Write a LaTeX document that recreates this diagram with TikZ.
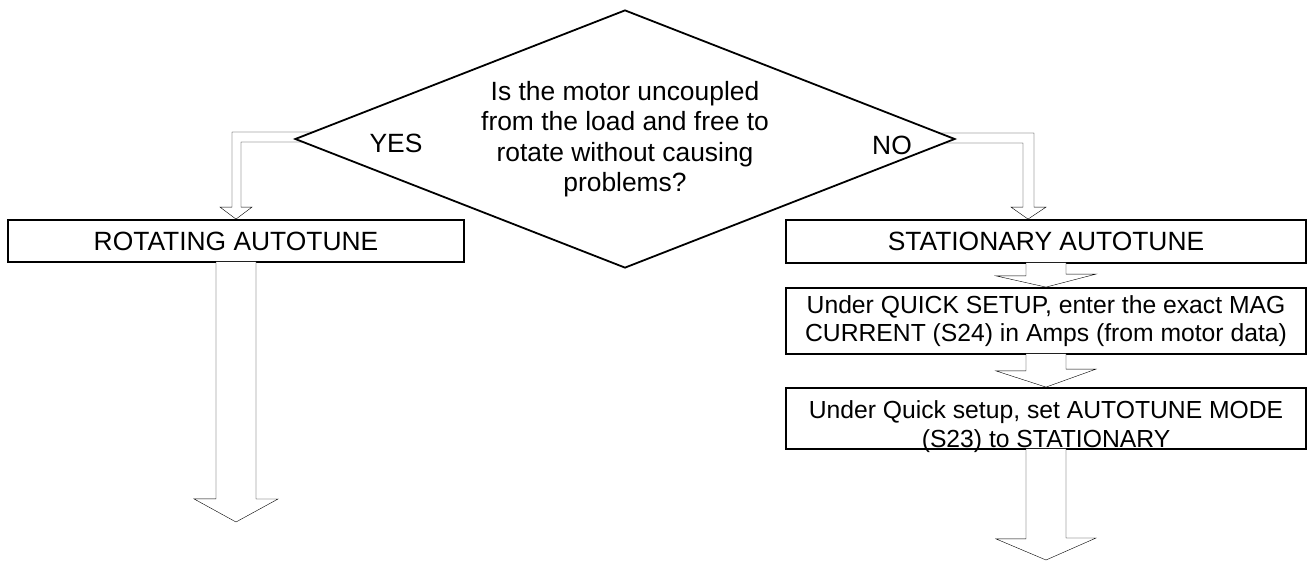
\documentclass[tikz,border=0pt]{standalone}
\usepackage{fontspec}
\setmainfont{Liberation Sans}
\usetikzlibrary{shapes.geometric}
\pgfdeclarelayer{background}
\pgfsetlayers{background,main}

\tikzset{
	stepbox/.style={draw, fill=white, inner sep=0pt, align=center},
	smalltext/.style={font=\fontsize{24.7}{28.5}\selectfont},
	decision/.style={draw, diamond, fill=white, aspect=2.5, inner sep=0pt, minimum width=660pt, minimum height=258pt, align=center},
	blockarrow/.style={draw, fill=white}
}

\begin{document}
\begin{tikzpicture}[x=1pt, y=-1pt, line width=1.8pt, font=\fontsize{26.4}{30.4}\selectfont]
	\useasboundingbox (0,0) rectangle (1312,562);

	% question
	\node[decision] (q) at (625,139) {Is the motor uncoupled\\from the load and free to\\rotate without causing\\problems?};
	\node (yes) at (396,143) {YES};
	\node (no) at (892,145) {NO};

	% boxes
	\node[stepbox, minimum width=456pt, minimum height=42pt] (rot) at (236,241) {ROTATING AUTOTUNE};
	\node[stepbox, minimum width=520pt, minimum height=43pt] (sta) at (1046,241.5) {STATIONARY AUTOTUNE};
	\node[stepbox, smalltext, minimum width=520pt, minimum height=66pt] (mag) at (1046,321) {Under QUICK SETUP, enter the exact MAG\\CURRENT (S24) in Amps (from motor data)};
	\node[stepbox, minimum width=520pt, minimum height=61pt, label={[anchor=north, inner sep=0pt, yshift=-13pt, align=center, smalltext]north:Under Quick setup, set AUTOTUNE MODE\\(S23) to STATIONARY}] (mode) at (1046,418.5) {};

	\coordinate (endl) at (236,522);
	\coordinate (endr) at (1046,560);

	% yes / no
	\begin{pgfonlayer}{background}
		\draw ([xshift=30pt,yshift=7pt]q.west) -| ([xshift=-4pt,yshift=12pt]rot.north) -- ++(-12,0) -- (rot.north) -- ++(16,-12) -- ++(-11,0) |- ([xshift=30pt,yshift=-3pt]q.west);
		\draw ([xshift=-30pt,yshift=6pt]q.east) -| ([xshift=-12pt,yshift=12pt]sta.north) -- ++(12,0) -- ([xshift=-18pt]sta.north) -- ++(-17,-12) -- ++(12,0) |- ([xshift=-30pt,yshift=-4pt]q.east);
	\end{pgfonlayer}

	% down arrows
	\path[blockarrow] ([xshift=-20pt,yshift=1pt]sta.south) -- ++(0,13) -- ++(-30,0) -- (mag.north) -- ++(50,-13) -- ++(-30,0) -- ([xshift=20pt,yshift=1pt]sta.south);
	\path[blockarrow] ([xshift=-20pt,yshift=1pt]mag.south) -- ++(0,17) -- ++(-30,0) -- (mode.north) -- ++(50,-18) -- ++(-30,0) -- ([xshift=20pt,yshift=1pt]mag.south);
	\path[blockarrow] ([xshift=-20pt,yshift=1pt]mode.south) -- ++(0,90) -- ++(-30,0) -- (endr) -- ++(50,-22) -- ++(-30,0) -- ([xshift=20pt,yshift=1pt]mode.south);
	\path[blockarrow] ([xshift=-20pt,yshift=1pt]rot.south) -- ++(0,237) -- ++(-22,0) -- (endl) -- ++(42,-23) -- ++(-22,0) -- ([xshift=20pt,yshift=1pt]rot.south);
\end{tikzpicture}
\end{document}
